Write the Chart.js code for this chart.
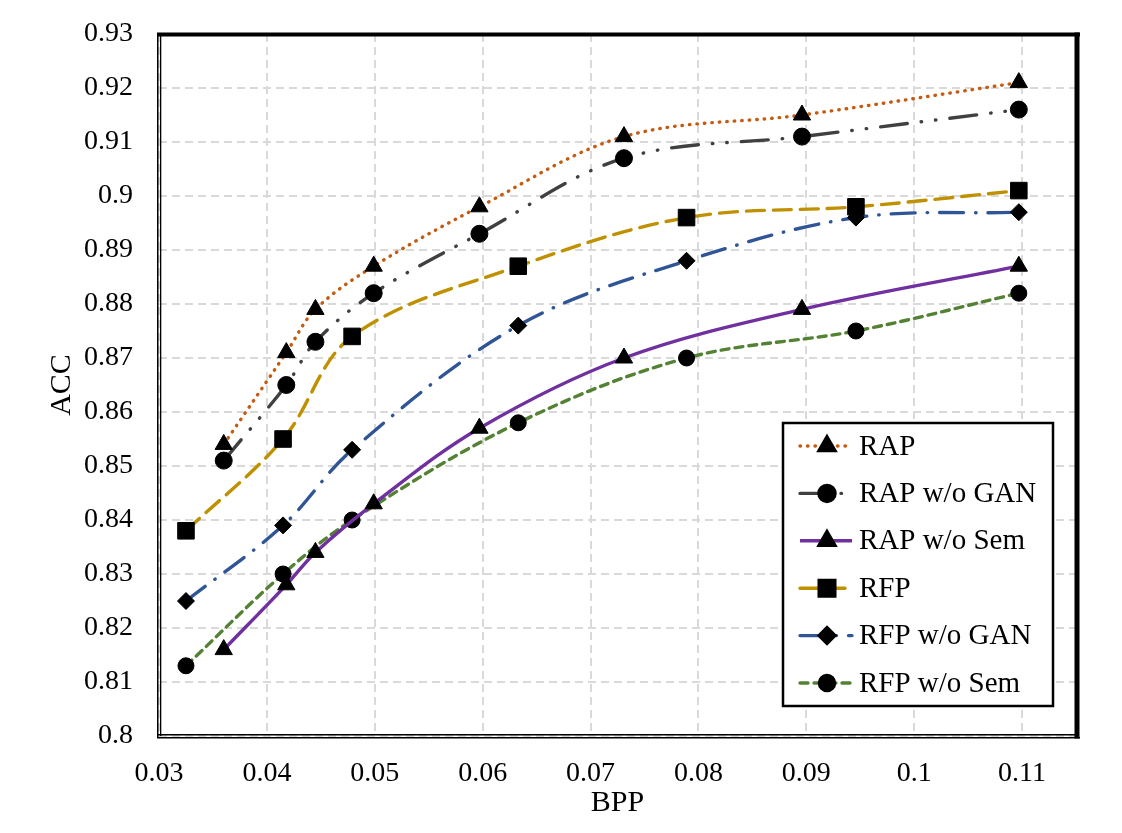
<!DOCTYPE html>
<html>
<head>
<meta charset="utf-8">
<script src="https://cdn.jsdelivr.net/npm/chart.js@4.4.1/dist/chart.umd.min.js"></script>
<style>
  html, body { margin: 0; padding: 0; background: #fff; }
</style>
</head>
<body>
<canvas id="myChart" width="1122" height="833"></canvas>
<script>
// values
const seriesNames = ['RAP', 'RAP w/o GAN', 'RAP w/o Sem', 'RFP', 'RFP w/o GAN', 'RFP w/o Sem'];
const rapBpp = [0.0360, 0.0418, 0.0445, 0.0499, 0.0597, 0.0731, 0.0896, 0.1097];
const rfpBpp = [0.0325, 0.0415, 0.0479, 0.0633, 0.0789, 0.0946, 0.1097];
const rapAcc       = [0.854, 0.871, 0.879, 0.887, 0.898, 0.911, 0.915, 0.921];
const rapNoGanAcc  = [0.851, 0.865, 0.873, 0.882, 0.893, 0.907, 0.911, 0.916];
const rapNoSemAcc  = [0.816, 0.828, 0.834, 0.843, 0.857, 0.870, 0.879, 0.887];
const rfpAcc       = [0.838, 0.855, 0.874, 0.887, 0.896, 0.898, 0.901];
const rfpNoGanAcc  = [0.825, 0.839, 0.853, 0.876, 0.888, 0.896, 0.897];
const rfpNoSemAcc  = [0.813, 0.830, 0.840, 0.858, 0.870, 0.875, 0.882];
const xTicks = [0.03, 0.04, 0.05, 0.06, 0.07, 0.08, 0.09, 0.10, 0.11];
const yTicks = [0.80, 0.81, 0.82, 0.83, 0.84, 0.85, 0.86, 0.87, 0.88, 0.89, 0.90, 0.91, 0.92, 0.93];

const FONT = 'Liberation Serif';

function pts(xs, ys) {
    return xs.map((x, i) => ({ x: x, y: ys[i] }));
}

function series(name, xs, ys, color, dash, cap, style, radius) {
    return {
        label: name,
        data: pts(xs, ys),
        borderColor: color,
        borderWidth: 3.4,
        borderDash: dash,
        borderCapStyle: cap,
        tension: 0.35,
        pointStyle: style,
        pointRadius: radius,
        pointBackgroundColor: '#000',
        pointBorderColor: '#000',
        pointBorderWidth: 1,
        fill: false
    };
}

const datasets = [
    series(seriesNames[0], rapBpp, rapAcc, '#C55A11', [0.5, 7], 'round', 'triangle', 10),
    series(seriesNames[1], rapBpp, rapNoGanAcc, '#404040', [27, 14, 0.5, 14, 0.5, 14], 'round', 'circle', 8.5),
    series(seriesNames[2], rapBpp, rapNoSemAcc, '#7030A0', [], 'butt', 'triangle', 10),
    series(seriesNames[3], rfpBpp, rfpAcc, '#BF9000', [18, 9], 'round', 'rect', 11.7),
    series(seriesNames[4], rfpBpp, rfpNoGanAcc, '#2F5597', [24, 12, 0.5, 12], 'round', 'rectRot', 8.5),
    series(seriesNames[5], rfpBpp, rfpNoSemAcc, '#548235', [8, 6], 'round', 'circle', 8)
];

// plot-area frame (thick top/right, thin double left/bottom)
const frame = {
    id: 'frame',
    afterDatasetsDraw(chart) {
        const { left, right, top, bottom } = chart.chartArea;
        const ctx = chart.ctx;
        ctx.save();
        ctx.fillStyle = '#000';
        ctx.fillRect(left - 2, top - 1.5, right - left + 6, 4);
        ctx.fillRect(right - 1.5, top - 1.5, 5, bottom - top + 4);
        ctx.fillRect(left - 2, top, 1.5, bottom - top + 2);
        ctx.fillRect(left + 1, top, 1.3, bottom - top);
        ctx.fillRect(left - 2, bottom - 2, right - left + 4, 1.5);
        ctx.fillRect(left - 2, bottom + 1, right - left + 6, 1.5);
        ctx.restore();
    }
};

// boxed legend in the lower right
const boxLegend = {
    id: 'boxLegend',
    afterDraw(chart) {
        const ctx = chart.ctx;
        const bx = 783, by = 423, bw = 270, bh = 283;
        ctx.save();
        ctx.fillStyle = '#fff';
        ctx.fillRect(bx, by, bw, bh);
        ctx.lineWidth = 2.5;
        ctx.strokeStyle = '#000';
        ctx.strokeRect(bx, by, bw, bh);
        chart.data.datasets.forEach((ds, i) => {
            const y = 446 + i * 47.4;
            ctx.save();
            ctx.strokeStyle = ds.borderColor;
            ctx.lineWidth = ds.borderWidth;
            ctx.lineCap = ds.borderCapStyle;
            ctx.setLineDash(ds.borderDash);
            ctx.beginPath();
            ctx.moveTo(800, y);
            ctx.lineTo(852, y);
            ctx.stroke();
            ctx.restore();
            ctx.fillStyle = '#000';
            ctx.strokeStyle = '#000';
            Chart.helpers.drawPoint(ctx, { pointStyle: ds.pointStyle, radius: ds.pointRadius, borderWidth: 1, rotation: 0 }, 827, y);
            ctx.fillStyle = '#000';
            ctx.font = '29px "' + FONT + '"';
            ctx.textAlign = 'left';
            ctx.textBaseline = 'middle';
            ctx.fillText(ds.label, 859, y + 1);
        });
        ctx.restore();
    }
};

const ctx = document.getElementById('myChart');
new Chart(ctx, {
    type: 'line',
    data: { datasets: datasets },
    plugins: [frame, boxLegend],
    options: {
        responsive: false,
        animation: false,
        layout: { padding: { top: 34, right: 46, left: 0, bottom: 0 } },
        plugins: {
            legend: { display: false },
            tooltip: { enabled: false }
        },
        scales: {
            x: {
                type: 'linear',
                min: 0.03,
                max: 0.115,
                afterBuildTicks: (scale) => { scale.ticks = xTicks.map(v => ({ value: v })); },
                afterFit: (scale) => {
                    scale.height = 97;
                    scale.paddingLeft = 0;
                    scale.paddingRight = 0;
                },
                ticks: {
                    color: '#000',
                    padding: 21,
                    maxRotation: 0,
                    autoSkip: false,
                    font: { family: FONT, size: 28 },
                    callback: (v) => String(+v.toFixed(2))
                },
                grid: { color: '#d9d9d9', lineWidth: 2, drawTicks: false },
                border: { display: false, dash: [8, 5] },
                title: {
                    display: true,
                    text: 'BPP',
                    color: '#000',
                    font: { family: FONT, size: 30 },
                    padding: { top: 0, bottom: 12 }
                }
            },
            y: {
                min: 0.8,
                max: 0.93,
                afterBuildTicks: (scale) => { scale.ticks = yTicks.map(v => ({ value: v })); },
                afterFit: (scale) => {
                    scale.width = 159;
                    scale.paddingTop = 0;
                    scale.paddingBottom = 0;
                },
                ticks: {
                    color: '#000',
                    padding: 26,
                    autoSkip: false,
                    font: { family: FONT, size: 28 },
                    callback: (v) => String(+v.toFixed(2))
                },
                grid: { color: '#d9d9d9', lineWidth: 2, drawTicks: false },
                border: { display: false, dash: [8, 5] },
                title: {
                    display: true,
                    text: 'ACC',
                    color: '#000',
                    font: { family: FONT, size: 30 },
                    padding: { top: 44, bottom: 0 }
                }
            }
        }
    }
});
</script>
</body>
</html>
